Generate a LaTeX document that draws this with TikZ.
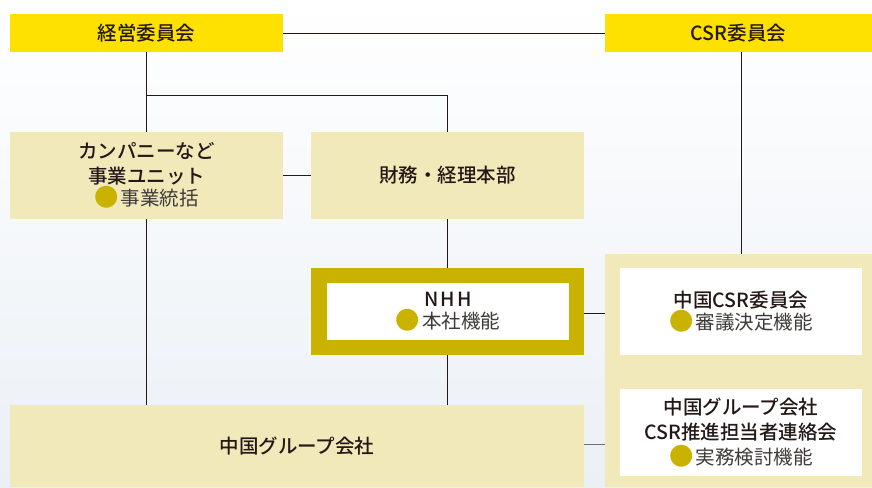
\documentclass[tikz,border=0pt]{standalone}
\usepackage{fontspec}
\setmainfont{Noto Sans CJK JP}[BoldFont={Noto Sans CJK JP Medium}]
\usetikzlibrary{backgrounds}
\definecolor{ylw}{HTML}{FFE100}
\definecolor{bei}{HTML}{F2E9BB}
\definecolor{olv}{HTML}{C9B300}
\definecolor{txt}{HTML}{231815}
\definecolor{txt2}{HTML}{3E3A39}
\definecolor{bgb}{HTML}{EBF0F5}
\definecolor{lgray}{HTML}{707070}
\newcommand\bul{{\color{olv}\raisebox{-0.05em}{\scalebox{1.25}{●}}}\hspace{2.5pt}}
\pgfdeclarelayer{lines}
\pgfsetlayers{background,lines,main}
\tikzset{
  box/.style={rectangle, inner sep=0pt, minimum width=273pt, minimum height=87pt, fill=bei, text=txt, align=center, font=\fontsize{19.5}{25}\selectfont},
  topbox/.style={box, fill=ylw, minimum height=38pt},
  wbox/.style={box, fill=white, minimum width=242pt},
  conn/.style={draw=txt, line width=0.9pt},
}
\begin{document}
\begin{tikzpicture}[x=1pt,y=-1pt]
\begin{pgfonlayer}{background}
\fill[top color=white, bottom color=bgb] (0,0) rectangle (872,487);
\end{pgfonlayer}
\useasboundingbox (0,0) rectangle (872,487);
% nodes
\node[topbox, minimum width=273pt] (keiei) at (146.5,33) {\bfseries 経営委員会};
\node[topbox, minimum width=267pt] (csr) at (738.5,33) {\bfseries CSR委員会};
\node[box] (comp) at (146.5,175.5) {\bfseries カンパニーなど\\\bfseries 事業ユニット\\[-3pt]\mdseries\color{txt2}\bul 事業統括};
\node[box] (zaimu) at (447.5,175.5) {\bfseries 財務・経理本部};
\node[box, fill=olv] (nhh) at (447.5,311.5) {};
\node[wbox, minimum height=57pt] (nhhin) at (448,311.5) {\addfontfeatures{LetterSpace=10}\bfseries NHH\\[-3pt]\mdseries\color{txt2}\bul 本社機能};
\node[rectangle, fill=bei, minimum width=267pt, minimum height=233pt, inner sep=0pt] (panel) at (738.5,370.5) {};
\node[wbox] (chucsr) at (741,311.5) {\bfseries 中国CSR委員会\\[-3pt]\mdseries\color{txt2}\bul 審議決定機能};
\node[wbox] (renraku) at (741,432.5) {\bfseries 中国グループ会社\\\bfseries CSR推進担当者連絡会\\\mdseries\color{txt2}\bul 実務検討機能};
\node[box, minimum width=574pt, minimum height=82pt] (group) at (297,446) {\bfseries 中国グループ会社};
\coordinate (j) at (146.5,95);
% connectors
\begin{pgfonlayer}{lines}
\draw[conn] (keiei.east) -- (csr.west);
\draw[conn] (keiei.south) -- (keiei.south |- group.north);
\draw[conn] (j) -| (zaimu.north);
\draw[conn] (comp.east) -- (zaimu.west);
\draw[conn] (zaimu.south) -- (nhh.north);
\draw[conn] (nhh.south) -- (group.north -| nhh.south);
\draw[conn] (chucsr.north |- csr.south) -- (chucsr.north);
\draw[conn] (chucsr.south) -- (renraku.north);
\draw[conn] ([yshift=-1.5pt]nhh.east) -- ([yshift=-1.5pt]nhh.east -| chucsr.west);
\draw[conn, draw=lgray] ([yshift=2pt]group.east) -- ([yshift=2pt]group.east -| panel.west);
\end{pgfonlayer}
\end{tikzpicture}
\end{document}
